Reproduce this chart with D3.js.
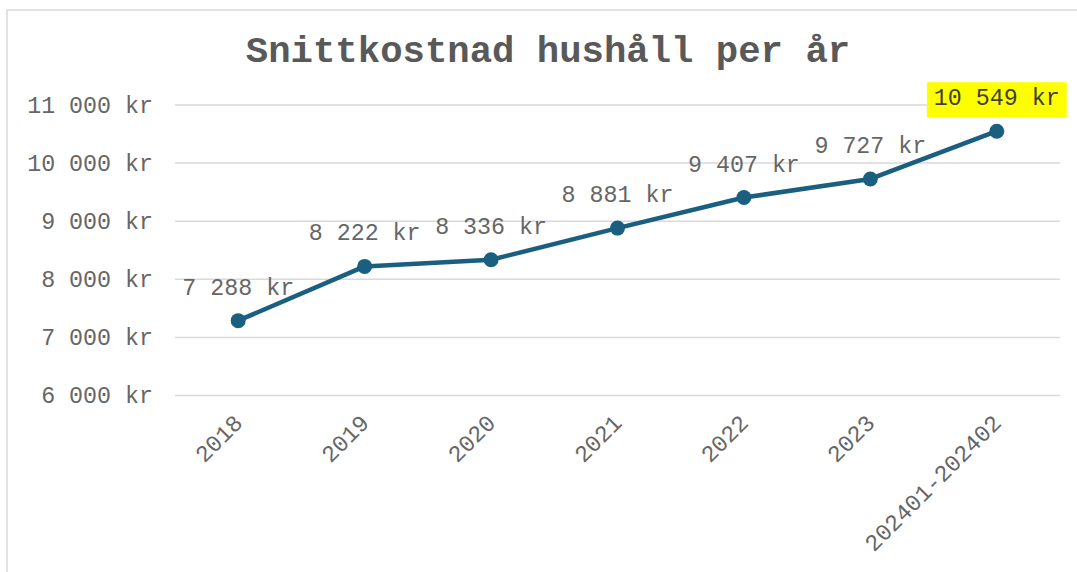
<!DOCTYPE html>
<html><head><meta charset="utf-8">
<script src="https://cdn.jsdelivr.net/npm/d3@7"></script>
<style>body{margin:0;background:#fff}svg{display:block}</style>
</head><body>
<script>
const categories = ["2018","2019","2020","2021","2022","2023","202401-202402"];
const values = [7288, 8222, 8336, 8881, 9407, 9727, 10549];
const yTicks = [6000, 7000, 8000, 9000, 10000, 11000];
const title = "Snittkostnad hushåll per år";
const highlightIndex = 6;

const W = 1077, H = 572;
const font = "'Liberation Mono','Courier New',monospace";
const fs = 23.3;
const fmt = v => d3.format(",")(v).replace(/,/g, " ") + " kr";

const svg = d3.select("body").append("svg").attr("width", W).attr("height", H);
svg.append("rect").attr("x", 7).attr("y", 10).attr("width", W).attr("height", H)
  .attr("fill", "#fff").attr("stroke", "#d9d9d9").attr("stroke-width", 1.5);

svg.append("text").attr("x", 548).attr("y", 62).attr("text-anchor", "middle")
  .attr("font-family", font).attr("font-weight", "bold").attr("font-size", 37.3)
  .attr("fill", "#595959").text(title);

const x = d3.scalePoint().domain(categories).range([175, 1060]).padding(0.5);
const y = d3.scaleLinear().domain([6000, 11000]).range([395.5, 105]);

// grid
svg.append("g").selectAll("line").data(yTicks).join("line")
  .attr("x1", 175).attr("x2", 1060).attr("y1", d => y(d)).attr("y2", d => y(d))
  .attr("stroke", "#d9d9d9").attr("stroke-width", 1.5);

// y axis labels
const yAxis = svg.append("g").attr("transform", "translate(161,0)")
  .call(d3.axisLeft(y).tickValues(yTicks).tickFormat(fmt).tickSize(0).tickPadding(8));
yAxis.select(".domain").remove();
yAxis.selectAll("text").attr("font-family", font).attr("font-size", fs).attr("fill", "#666");

// x axis labels
const xAxis = svg.append("g").attr("transform", "translate(0,400)")
  .call(d3.axisBottom(x).tickSize(0).tickPadding(0));
xAxis.select(".domain").remove();
xAxis.selectAll("text").attr("font-family", font).attr("font-size", fs).attr("fill", "#666")
  .attr("text-anchor", "end").attr("dy", null).attr("y", 0)
  .attr("transform", "translate(1,20) rotate(-45)").attr("dominant-baseline", "central");

// line
const line = d3.line().x((d, i) => x(categories[i])).y(d => y(d));
svg.append("path").datum(values).attr("d", line).attr("fill", "none")
  .attr("stroke", "#1a5e80").attr("stroke-width", 4.5).attr("stroke-linejoin", "round");
svg.append("g").selectAll("circle").data(values).join("circle")
  .attr("cx", (d, i) => x(categories[i])).attr("cy", d => y(d)).attr("r", 7.5).attr("fill", "#1a5e80");

// data labels
const lbl = svg.append("g");
values.forEach((v, i) => {
  const cx = x(categories[i]), cy = y(v) - 32;
  if (i === highlightIndex) {
    const tw = fmt(v).length * fs * 0.6;
    lbl.append("rect").attr("x", cx - tw / 2 - 7).attr("y", cy - 17).attr("width", tw + 14).attr("height", 35)
      .attr("fill", "#ffff00");
  }
  lbl.append("text").attr("x", cx).attr("y", cy).attr("text-anchor", "middle")
    .attr("dominant-baseline", "central").attr("font-family", font).attr("font-size", fs)
    .attr("fill", i === highlightIndex ? "#404040" : "#666").text(fmt(v));
});
</script>
</body></html>
